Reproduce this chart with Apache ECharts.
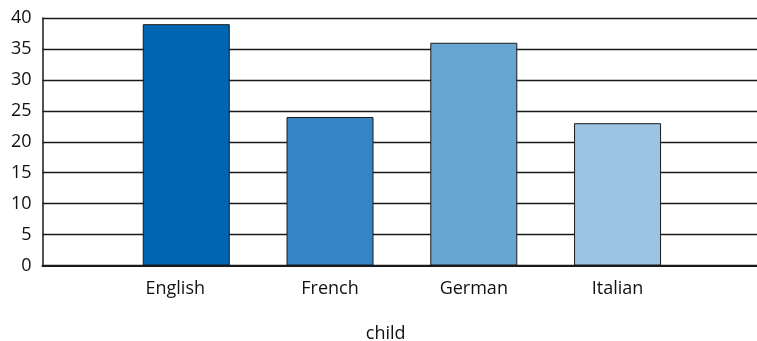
<!DOCTYPE html>
<html>
<head>
<meta charset="utf-8">
<script src="https://cdn.jsdelivr.net/npm/echarts@6/dist/echarts.min.js"></script>
<style>
html,body{margin:0;padding:0;background:#fff;}
#chart{width:757px;height:341px;}
</style>
</head>
<body>
<div id="chart"></div>
<script>
const categories = ['English', 'French', 'German', 'Italian'];
const values = [39, 24, 36, 23];
const barColors = ['#0066b3', '#3584c4', '#67a6d3', '#9dc3e3'];
const axisTitle = 'child';

const FONT = '"Open Sans", "Noto Sans", sans-serif';

const chart = echarts.init(document.getElementById('chart'), null, {renderer: 'canvas'});
chart.setOption({
  animation: false,
  grid: {left: 42.5, top: 18, bottom: 75.5, right: 0, containLabel: false, outerBoundsMode: 'none'},
  xAxis: {
    type: 'value',
    min: 0, max: 4.97, interval: 1,
    name: axisTitle,
    nameLocation: 'middle',
    nameGap: 59,
    nameTextStyle: {fontFamily: FONT, fontSize: 18, color: '#111', padding: [0, 28, 0, 0]},
    axisLine: {show: true, onZero: false, lineStyle: {color: '#1a1a1a', width: 2}},
    axisTick: {show: false},
    splitLine: {show: false},
    axisLabel: {
      fontFamily: FONT, fontSize: 18, color: '#111', margin: 14,
      showMinLabel: true, showMaxLabel: true,
      formatter: function (v) {
        const i = Math.round(v) - 1;
        if (i < 0 || i >= categories.length) return '';
        return i === 0 ? '{a|' + categories[i] + '}' : categories[i];
      },
      rich: {a: {fontFamily: FONT, fontSize: 18, color: '#111', padding: [0, 22, 0, 0]}}
    }
  },
  yAxis: {
    type: 'value',
    min: 0, max: 40, interval: 5,
    axisLine: {show: true, lineStyle: {color: '#1a1a1a', width: 1.5}},
    axisTick: {show: false},
    splitLine: {show: true, lineStyle: {color: '#1a1a1a', width: 1.3}},
    axisLabel: {fontFamily: FONT, fontSize: 18, color: '#111', margin: 11}
  },
  series: [{
    type: 'bar',
    barWidth: 87,
    data: values.map(function (v, i) {
      return {value: [i + 1, v], itemStyle: {color: barColors[i], borderColor: '#1a1a1a', borderWidth: 1}};
    })
  }]
});
</script>
</body>
</html>
